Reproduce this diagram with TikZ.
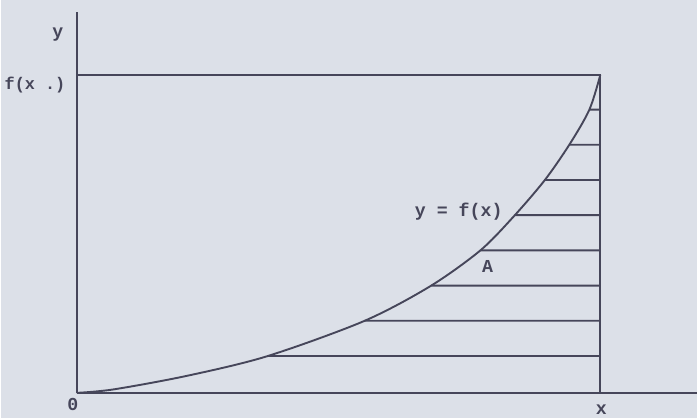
\documentclass[tikz,border=0pt]{standalone}
\usepackage{fontspec}
\setmonofont{Liberation Mono}
\usetikzlibrary{intersections}
\definecolor{FondoGris}{HTML}{DCE0E8}
\definecolor{TrazoGris}{HTML}{46465A}

\begin{document}
\begin{tikzpicture}[x=.025cm,y=.025cm,font=\fontsize{13}{15}\selectfont\ttfamily\bfseries,line width=1.35pt,TrazoGris]
\fill[FondoGris] (-76,-25) rectangle (622,394);
\draw (0,0)--(0,382);
\draw (0,0)--(622,0);
\draw (0,319)--(525,319)--(525,0);
\draw[name path=curva] plot[smooth] coordinates {(0,0) (37,3.5) (110,17) (190.7,36.7) (288,72) (354,106.7) (404,142.3) (437,175.7) (469,213) (494,249) (514,284) (525,319)};
\foreach \y in {37,72.3,107.6,142.9,178.2,213.5,248.8,284.1}{
  \path[name path=franja] (0,\y)--(525,\y);
  \draw[name intersections={of=curva and franja}] (intersection-1)--(525,\y);
}
\node (ejey) at (-19,359) {y};
\node[font=\fontsize{12}{14}\selectfont\ttfamily\bfseries] (fxuno) at (-42,309) {f(x .)};
\node (origen) at (-4,-12) {0};
\node (ejex) at (526,-17) {x};
\node (curvalab) at (383,182) {y = f(x)};
\node (area) at (412,127) {A};
\end{tikzpicture}
\end{document}
